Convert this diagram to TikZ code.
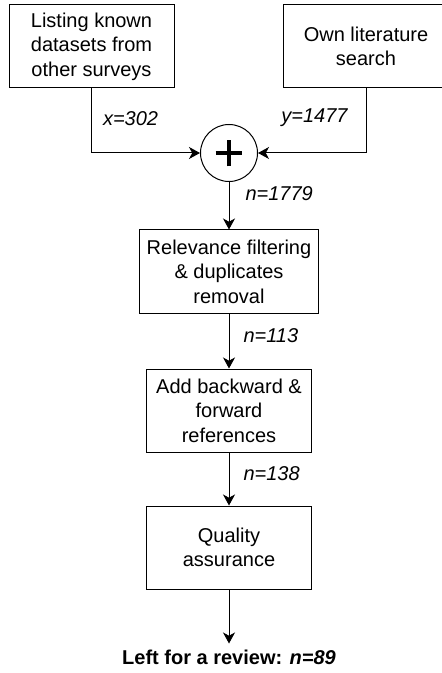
\documentclass[tikz,border=0pt]{standalone}
\usepackage{fontspec}
\setmainfont{Liberation Sans}
\usetikzlibrary{arrows.meta, positioning}

\begin{document}
\begin{tikzpicture}[
  x=0.5pt, y=-0.5pt,
  box/.style={rectangle, draw, line width=0.5pt, minimum width=82.5pt,
              minimum height=41.5pt, align=center, inner sep=0pt,
              font=\fontsize{10}{12.25}\selectfont},
  sumnode/.style={circle, draw, line width=0.5pt, minimum size=28.5pt, inner sep=0pt},
  arr/.style={-{Stealth[length=5.5pt, width=6pt, inset=1.6pt]}, line width=0.5pt},
  lbl/.style={font=\fontsize{10}{12}\selectfont\itshape, inner sep=0pt},
]
  \useasboundingbox (0,0) rectangle (442,673);

  \node[box] (listing) at (91.5,46.5) {Listing known\\datasets from\\other surveys};
  \node[box] (search) at (366,46.5) {Own literature\\search};
  \node[sumnode] (sum) at (229,153) {};
  \draw[line width=2.2pt] ([xshift=-6.7pt]sum.center) -- ([xshift=6.7pt]sum.center);
  \draw[line width=2.2pt] ([yshift=-6.7pt]sum.center) -- ([yshift=6.7pt]sum.center);

  \node[box, minimum width=89.5pt, below=23.75pt of sum] (relevance)
    {Relevance filtering\\\& duplicates\\removal};
  \node[box, below=27.5pt of relevance] (refs)
    {Add backward \&\\forward\\references};
  \node[box, below=26.5pt of refs] (quality) {Quality\\assurance};
  \node[below=27pt of quality, inner sep=3pt, font=\fontsize{10}{12}\selectfont\bfseries]
    (result) {Left for a review: \textit{n=89}};

  \draw[arr] (listing.south) |- (sum.west) node[pos=0.23, right=5.5pt, lbl] {x=302};
  \draw[arr] (search.south) |- (sum.east) node[pos=0.23, left=9pt, lbl] {y=1477};
  \draw[arr] (sum) -- (relevance) node[pos=0.25, right=8pt, lbl] {n=1779};
  \draw[arr] (relevance) -- (refs) node[pos=0.4, right=7pt, lbl] {n=113};
  \draw[arr] (refs) -- (quality) node[pos=0.4, right=7pt, lbl] {n=138};
  \draw[arr] (quality) -- (result);
\end{tikzpicture}
\end{document}
